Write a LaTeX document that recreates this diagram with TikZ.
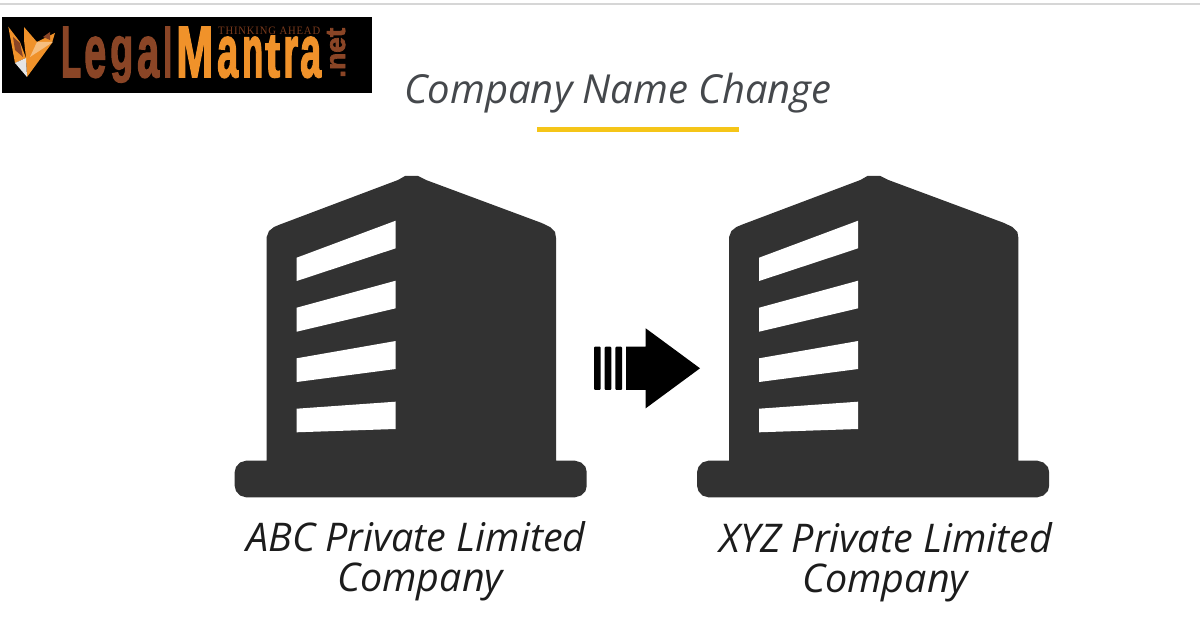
\documentclass[tikz,border=0pt]{standalone}
\usepackage{fontspec}
\setmainfont{Open Sans}
\newfontfamily\logofont[BoldFeatures={FakeBold=2.5}]{Liberation Sans}
\newfontfamily\tagfont[LetterSpace=8]{Liberation Serif}
\definecolor{bld}{HTML}{323232}
\definecolor{logobrown}{HTML}{8A4526}
\definecolor{logoorange}{HTML}{F0922A}
\definecolor{tagbrown}{HTML}{7A3A1C}
\definecolor{titlegray}{HTML}{45484C}
\definecolor{caption}{HTML}{1C1C1C}
\definecolor{rule}{HTML}{D6D6D6}
\definecolor{bar}{HTML}{F5C518}
\newcommand{\lmcap}[2]{\resizebox{#1pt}{50pt}{#2}}
\newcommand{\lmlow}[2]{\resizebox{#1pt}{40pt}{#2}}
\newcommand{\lmgap}[1]{\hspace{#1pt}}
\tikzset{
  x=1pt,y=-1pt,
  titletext/.style={inner sep=0,anchor=base,text=titlegray,font=\itshape\fontsize{40}{40}\selectfont},
  captext/.style={inner sep=0,anchor=base,text=caption,font=\itshape\fontsize{39.5}{39.5}\selectfont},
  logotext/.style={inner sep=0,anchor=base west,font=\logofont\bfseries},
  win/.style={fill=white},
  pics/tower/.style={code={
    \fill[bld] (266.7,460.7) -- (266.7,237) -- (269,231) -- (274,227) -- (280,224.5) -- (398,180) -- (405,176) -- (418,176) -- (426,180) -- (541.7,223) -- (550,227) -- (555,232) -- (556,238) -- (556,460.7) -- (575,460.7) -- (581,462.5) -- (585.5,467) -- (586.7,472) -- (586.7,486) -- (585.5,491) -- (581,495.5) -- (575,497.3) -- (246,497.3) -- (240,495.5) -- (236,491) -- (234.7,486) -- (234.7,472) -- (236,467) -- (240,462.5) -- (246,460.7) -- cycle;
    \fill[win] (296.7,257.7) -- (395.7,220.7) -- (395.7,248.3) -- (296.7,281) -- cycle;
    \fill[win] (296.7,307.7) -- (395.7,280.7) -- (395.7,308.3) -- (296.7,331.7) -- cycle;
    \fill[win] (296.7,358.3) -- (395.7,341) -- (395.7,369) -- (296.7,382) -- cycle;
    \fill[win] (296.7,408.7) -- (395.7,401.7) -- (395.7,429) -- (296.7,432.3) -- cycle;
  }}
}
\begin{document}
\begin{tikzpicture}
\useasboundingbox (0,0) rectangle (1200,628);
\fill[white] (0,0) rectangle (1200,628);
\fill[rule] (0,3) rectangle (1200,5);
% logo
\fill[black] (2,17) rectangle (372,93);
\fill[logoorange] (8.3,26.7) -- (20,42) -- (26,58) -- (15,63) -- cycle;
\fill[logobrown] (13,37) -- (20,43) -- (23,57) -- (15,50) -- cycle;
\fill[logoorange] (24,27) -- (37,42) -- (55,33) -- (52,43) -- (27,77) -- (26,58) -- (24,40) -- cycle;
\fill[logoorange!60!white] (37,42) -- (53,42) -- (30,57) -- cycle;
\fill[white!90!black] (15,63) -- (26,58) -- (27,77) -- cycle;
\fill[logobrown] (43,37) -- (50,32) -- (50,40) -- cycle;
\node[logotext,text=logobrown] (legal) at (61,77) {\lmcap{20}{L}\lmgap{3}\lmlow{22}{e}\lmgap{4}\raisebox{7.5pt}{\resizebox*{23pt}{46pt}{g}}\lmgap{4}\lmlow{22}{a}\lmgap{4}\lmcap{9}{l}};
\node[logotext,text=logoorange] (mantra) at (176,77) {\lmcap{37}{M}\lmgap{4}\lmlow{21}{a}\lmgap{4}\lmlow{21}{n}\lmgap{2}\resizebox{15pt}{41pt}{t}\lmgap{3}\lmlow{15}{r}\lmgap{2}\lmlow{21}{a}};
\node[inner sep=0,anchor=base west] (tag) at (218,34.5) {\resizebox{102pt}{7.5pt}{\tagfont\textcolor{tagbrown}{THINKING AHEAD}}};
\node[logotext,rotate=90] (net) at (345,78) {\resizebox{50pt}{18pt}{\textcolor{logobrown}{.net}}};
% title
\node[titletext] (title) at (618,104) {Company Name Change};
\fill[bar] (536.7,127.3) rectangle (739,132);
% buildings
\pic {tower};
\pic[xshift=462.4pt] {tower};
% arrow
\fill[black,rounded corners=1pt] (594,346.7) rectangle (600.7,390);
\fill[black,rounded corners=1pt] (604.7,346.7) rectangle (611.3,390);
\fill[black,rounded corners=1pt] (615.3,346.7) rectangle (622,390);
\fill[black] (626,346.7) -- (645.7,346.7) -- (645.7,328.3) -- (700,368.3) -- (645.7,408.3) -- (645.7,390) -- (626,390) -- cycle;
% captions
\node[captext] (abc1) at (416,551) {ABC Private Limited};
\node[captext] (abc2) at (420,591.5) {Company};
\node[captext] (xyz1) at (886,552) {XYZ Private Limited};
\node[captext] (xyz2) at (885,592.5) {Company};
\end{tikzpicture}
\end{document}
